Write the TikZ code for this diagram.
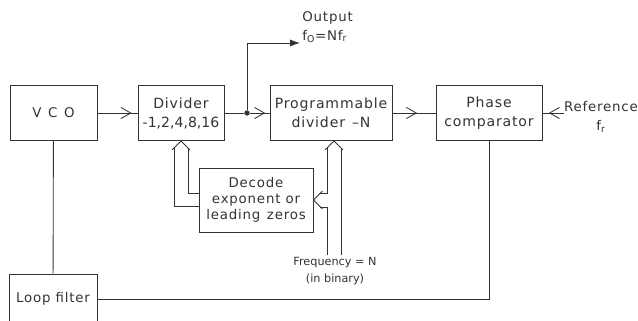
\documentclass[tikz,border=0pt]{standalone}
\usepackage{fontspec}
\setmainfont{DejaVu Sans}[LetterSpace=6]
\usetikzlibrary{arrows.meta,decorations.markings}
\usetikzlibrary{calc}

\begin{document}
\begin{tikzpicture}[
  x=0.25mm, y=-0.25mm, line width=0.6pt, color=black!80,
  > = {Straight Barb[length=7pt,width=8pt]},
  every node/.style={font=\fontsize{9.5}{13.5}\selectfont, align=center, inner sep=0pt},
  block/.style = {draw, minimum width=#1, minimum height=13.75mm, font=\fontsize{10}{13.5}\selectfont},
  dot/.style = {draw,fill,circle,inner sep=1.1pt},
  arrow inside/.style = {postaction=decorate,decoration={markings,mark=at position #1 with \arrow{>}}}
  ]
	\useasboundingbox (0,0) rectangle (638,320);

	% main chain
	\node[block=21.75mm, font=\fontsize{9.5}{13.5}\selectfont] (vco) at (53.5,113) {V\enspace C\enspace O};
	\node[block=21.5mm] (divider) at (181,113) {Divider\\{\addfontfeatures{LetterSpace=0}-1,2,4,8,16}};
	\node[block=30.5mm] (progdiv) at (331,113) {Programmable\\divider\enspace –N};
	\node[block=26.5mm] (phase) at (489,113) {Phase\\comparator};
	\node (ref) at (601,117) {Reference\\f\textsubscript{r}};

	\node[block=28.5mm, minimum height=16mm, font=\fontsize{9.5}{11.5}\selectfont] (decode) at (256,200) {Decode\\exponent or\\leading\enspace zeros};
	\node[block=22mm, minimum height=12.5mm, font=\fontsize{9.5}{13.5}\selectfont] (loop) at (53,299) {Loop filter};
	\node[font=\addfontfeatures{LetterSpace=0}\fontsize{8}{12}\selectfont] (freq) at (335,271) {Frequency = N\\(in binary)};

	\node[dot] (tap) at (247,113) {};
	\coordinate (outtip) at (300,43);
	\node[align=left, anchor=west] (out) at (302,27) {Output\\f\textsubscript{O}=Nf\textsubscript{r}};

	\draw[arrow inside=0.85] (vco) -- (divider);
	\draw (divider) -- (tap);
	\draw[arrow inside=0.78] (tap) -- (progdiv);
	\draw[arrow inside=0.57] (progdiv) -- (phase);
	\draw[arrow inside=0.7] (ref.west |- phase.east) -- (phase.east);
	\draw[-{Latex[length=7pt,width=5pt]}] (tap) |- (outtip);

	% loop back through the filter
	\draw (vco) -- (loop);
	\draw (phase.south) |- (loop.east);

	% bus from the decoder into the divider
	\draw ($(decode.west)+(0,-7)$) -| ($(divider.south)+(7,7)$);
	\draw ($(decode.west)+(0,6)$) -| ($(divider.south)+(-7,7)$);
	\draw ($(divider.south)+(-9,9)$) -- (divider.south) -- ($(divider.south)+(9,9)$);

	% frequency word bus, branching into the decoder
	\coordinate (ptip) at ($(progdiv.south)+(3,0)$);
	\draw ($(ptip |- freq.north)+(7,-2)$) -- ($(ptip)+(7,7)$);
	\draw ($(ptip)+(-7,7)$) |- ($(decode.east)+(7,-7)$);
	\draw ($(decode.east)+(7,7)$) -| ($(ptip |- freq.north)+(-7,-2)$);
	\draw ($(ptip)+(-9,9)$) -- (ptip) -- ($(ptip)+(9,9)$);
	\draw ($(decode.east)+(9,-9)$) -- (decode.east) -- ($(decode.east)+(9,9)$);

\end{tikzpicture}
\end{document}
